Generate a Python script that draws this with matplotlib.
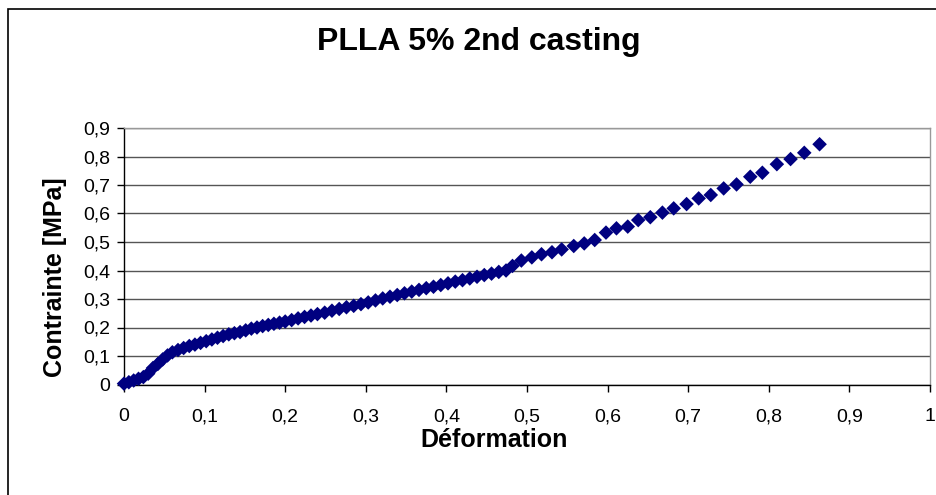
import matplotlib
matplotlib.use("Agg")
import matplotlib.pyplot as plt
from matplotlib.ticker import FuncFormatter, MultipleLocator
from matplotlib.patches import Rectangle

title = "PLLA 5% 2nd casting"
xlabel = "Déformation"
ylabel = "Contrainte [MPa]"

strain = [0.000, 0.006, 0.012, 0.018, 0.024, 0.030, 0.036, 0.042, 0.048, 0.054,
          0.060, 0.067, 0.074, 0.081, 0.088, 0.095, 0.102, 0.109, 0.116, 0.123,
          0.130, 0.137, 0.144, 0.151, 0.158, 0.165, 0.172, 0.179, 0.186, 0.193,
          0.200, 0.208, 0.216, 0.224, 0.232, 0.240, 0.249, 0.258, 0.267, 0.276,
          0.285, 0.294, 0.303, 0.312, 0.321, 0.330, 0.339, 0.348, 0.357, 0.366,
          0.375, 0.384, 0.393, 0.402, 0.411, 0.420, 0.429, 0.438, 0.447, 0.456,
          0.465, 0.474, 0.482, 0.493, 0.506, 0.518, 0.531, 0.543, 0.558, 0.571,
          0.584, 0.598, 0.611, 0.625, 0.638, 0.653, 0.668, 0.682, 0.698, 0.713,
          0.728, 0.744, 0.760, 0.777, 0.792, 0.810, 0.827, 0.844, 0.863]
stress = [0.003, 0.008, 0.014, 0.020, 0.026, 0.038, 0.058, 0.072, 0.088, 0.102,
          0.113, 0.121, 0.128, 0.135, 0.140, 0.146, 0.152, 0.158, 0.164, 0.170,
          0.176, 0.180, 0.184, 0.190, 0.196, 0.200, 0.205, 0.209, 0.213, 0.217,
          0.221, 0.226, 0.232, 0.237, 0.242, 0.247, 0.252, 0.259, 0.265, 0.271,
          0.276, 0.282, 0.288, 0.295, 0.302, 0.308, 0.314, 0.320, 0.326, 0.332,
          0.338, 0.343, 0.349, 0.355, 0.361, 0.366, 0.372, 0.378, 0.384, 0.389,
          0.395, 0.400, 0.416, 0.435, 0.446, 0.457, 0.464, 0.474, 0.486, 0.495,
          0.507, 0.533, 0.548, 0.554, 0.577, 0.587, 0.603, 0.618, 0.633, 0.653,
          0.665, 0.688, 0.702, 0.729, 0.743, 0.773, 0.791, 0.813, 0.843]

W, H = 937, 495
fig = plt.figure(figsize=(W / 100, H / 100), dpi=100)
plt.rcParams['font.family'] = ['Liberation Sans', 'DejaVu Sans']

# outer chart border (only top and left visible)
fig.patches.append(Rectangle((8 / W, -0.1), 1.2, 1 - 9 / H + 0.1, transform=fig.transFigure,
                             fill=False, edgecolor='black', linewidth=1.2))

L, R, T, B = 124, 930, 128, 384.5
ax = fig.add_axes([L / W, 1 - B / H, (R - L) / W, (B - T) / H])

ax.scatter(strain, stress, marker='D', s=55, color='#000080', edgecolors='none',
           zorder=3, clip_on=False)

ax.set_xlim(0, 1)
ax.set_ylim(0, 0.9)
ax.xaxis.set_major_locator(MultipleLocator(0.1))
ax.yaxis.set_major_locator(MultipleLocator(0.1))
fmt = FuncFormatter(lambda v, p: ('%g' % round(v, 1)).replace('.', ','))
ax.xaxis.set_major_formatter(fmt)
ax.yaxis.set_major_formatter(fmt)

ax.grid(axis='y', color='#555555', linewidth=1.0)
ax.set_axisbelow(True)
for s in ['top', 'right']:
    ax.spines[s].set_color('#999999')
    ax.spines[s].set_linewidth(1.0)
for s in ['left', 'bottom']:
    ax.spines[s].set_color('black')
    ax.spines[s].set_linewidth(1.0)

ax.tick_params(axis='both', direction='out', length=5, width=1, labelsize=14,
               colors='black')
ax.tick_params(axis='x', pad=12)
ax.tick_params(axis='y', pad=5)

fig.text(494 / W, 1 - 440 / H, xlabel, ha='center', va='center', fontsize=18,
         fontweight='bold')
fig.text(55 / W, 1 - 277 / H, ylabel, ha='center', va='center', rotation=90,
         fontsize=18, fontweight='bold')
fig.text(479 / W, 1 - 42 / H, title, ha='center', va='center', fontsize=23,
         fontweight='bold')

fig.savefig('out.png', dpi=100)
